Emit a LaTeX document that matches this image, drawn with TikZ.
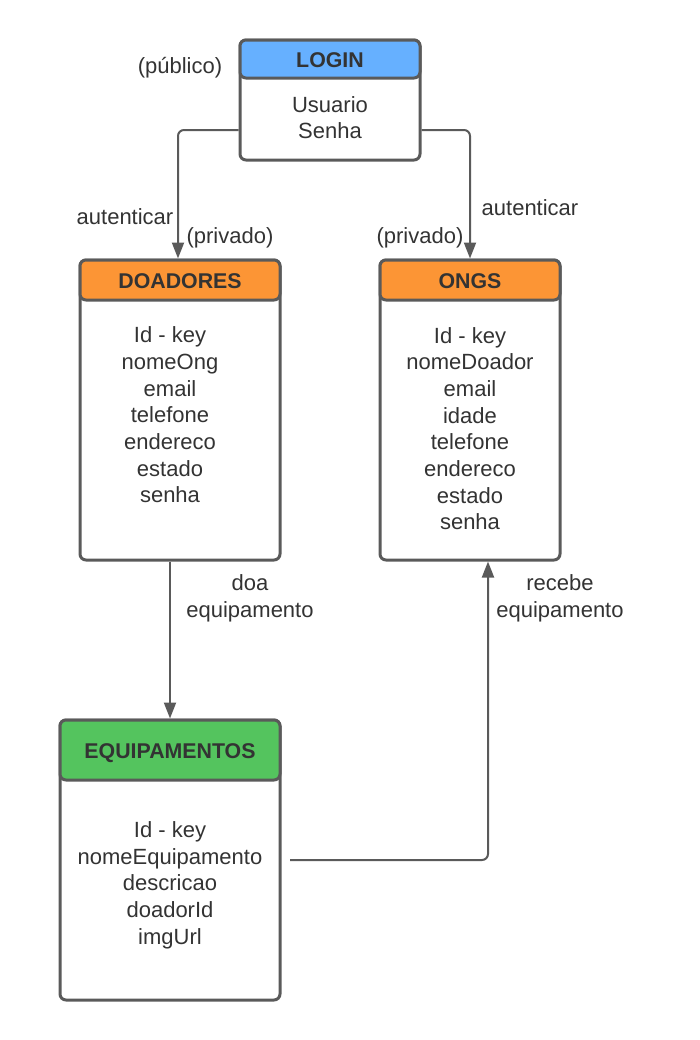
\documentclass[tikz,border=0pt]{standalone}
\usepackage{fontspec}
\setmainfont{Liberation Sans}
\usetikzlibrary{arrows.meta}

\definecolor{edgegray}{HTML}{5A5A5A}
\definecolor{txtgray}{HTML}{333333}
\definecolor{loginblue}{HTML}{66B0FF}
\definecolor{tblorange}{HTML}{FC9535}
\definecolor{tblgreen}{HTML}{54C45E}

\begin{document}
\begin{tikzpicture}[x = 0.75pt, y = -0.75pt,
	tbody/.style = {draw = edgegray, line width = 2.25pt, rounded corners = 4.5pt, fill = white, inner sep = 0pt},
	thead/.style = {draw = edgegray, line width = 2.25pt, rounded corners = 4.5pt, inner sep = 0pt, anchor = north,
		font = \fontsize{16}{18}\selectfont\bfseries, text = txtgray, text height = 12pt, text depth = 0pt},
	tfield/.style = {align = center, font = \fontsize{16.5}{20}\selectfont, text = txtgray, inner sep = 0pt},
	lbl/.style = {font = \fontsize{16.5}{20}\selectfont, text = txtgray, inner sep = 0pt, align = center},
	conn/.style = {draw = edgegray, line width = 1.5pt, rounded corners = 4.5pt,
		-{Triangle[length = 12pt, width = 9pt]}}]
	\useasboundingbox (0,0) rectangle (700,1040);

	% tables
	\node[tbody, minimum width = 135pt, minimum height = 90pt] (login) at (330,100) {};
	\node[thead, fill = loginblue, minimum width = 135pt, minimum height = 28.5pt] (loginh) at (login.north) {LOGIN};
	\node[tfield] (loginf) at (330,117.5) {Usuario\\Senha};

	\node[tbody, minimum width = 150pt, minimum height = 225pt] (doad) at (180,410) {};
	\node[thead, fill = tblorange, minimum width = 150pt, minimum height = 30pt] (doadh) at (doad.north) {DOADORES};
	\node[tfield] (doadf) at (170,415) {Id - key\\nomeOng\\email\\telefone\\endereco\\estado\\senha};

	\node[tbody, minimum width = 135pt, minimum height = 225pt] (ongs) at (470,410) {};
	\node[thead, fill = tblorange, minimum width = 135pt, minimum height = 30pt] (ongsh) at (ongs.north) {ONGS};
	\node[tfield] (ongsf) at (470,428.5) {Id - key\\nomeDoador\\email\\idade\\telefone\\endereco\\estado\\senha};

	\node[tbody, minimum width = 165pt, minimum height = 210pt] (equip) at (170,860) {};
	\node[thead, fill = tblgreen, minimum width = 165pt, minimum height = 45pt] (equiph) at (equip.north) {EQUIPAMENTOS};
	\node[tfield] (equipf) at (170,885) {Id - key\\nomeEquipamento\\descricao\\doadorId\\imgUrl};

	\coordinate (equipout) at (290,860);

	% connectors
	\draw[conn] ([yshift = -22.5pt]login.west) -| ([xshift = -1.5pt]doad.north);
	\draw[conn] ([yshift = -22.5pt]login.east) -| (ongs.north);
	\draw[conn] (doad.south -| equip.north) -- (equip.north);
	\draw[conn] (equipout) -| ([xshift = 13.5pt]ongs.south);

	% labels
	\node[lbl] (pub) at (180,68) {(público)};
	\node[lbl] (aut1) at (125,217) {autenticar};
	\node[lbl] (priv1) at (230,238) {(privado)};
	\node[lbl] (aut2) at (530,208) {autenticar};
	\node[lbl] (priv2) at (420,238) {(privado)};
	\node[lbl] (doa) at (250,598) {doa\\equipamento};
	\node[lbl] (rec) at (560,598) {recebe\\equipamento};
\end{tikzpicture}
\end{document}
